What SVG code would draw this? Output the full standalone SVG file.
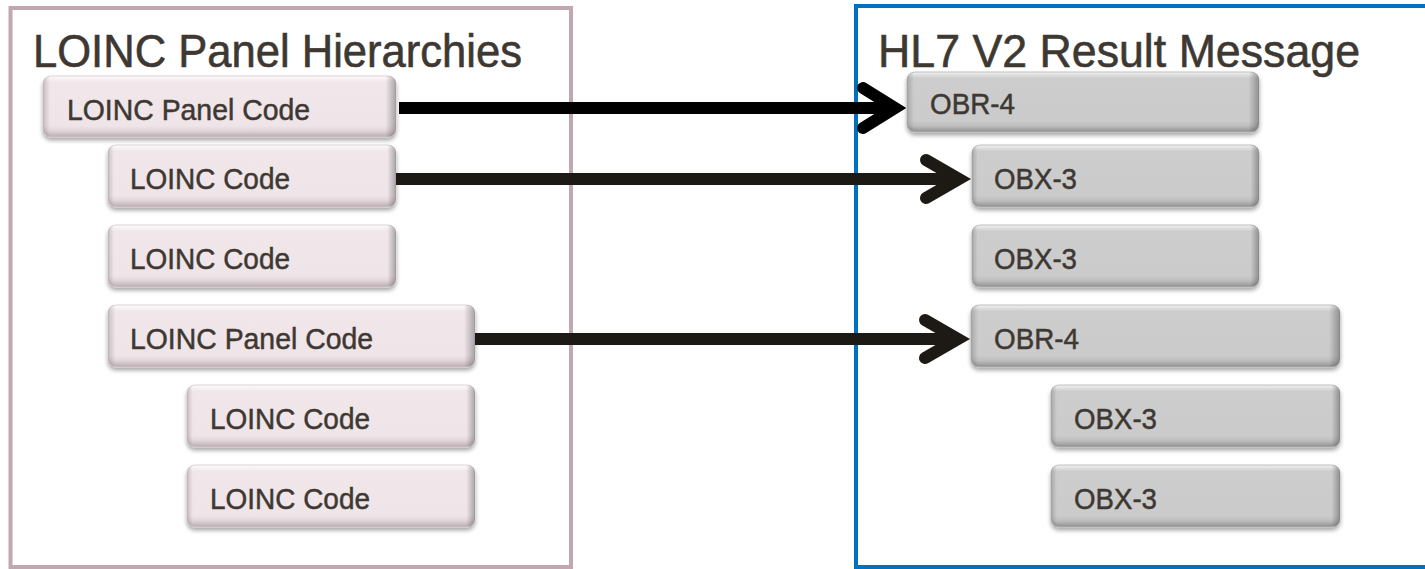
<svg xmlns="http://www.w3.org/2000/svg" width="1425" height="569" viewBox="0 0 1425 569">
  <defs>
    <!-- bevel shading for the pink code boxes -->
    <linearGradient id="pinkFill" x1="0" y1="0" x2="0" y2="1">
      <stop offset="0" stop-color="#fdfbfc"/>
      <stop offset="0.1" stop-color="#f1e7eb"/>
      <stop offset="0.82" stop-color="#efe5e9"/>
      <stop offset="0.9" stop-color="#e0d4d9"/>
      <stop offset="1" stop-color="#b9acb1"/>
    </linearGradient>
    <!-- bevel shading for the grey segment boxes -->
    <linearGradient id="greyFill" x1="0" y1="0" x2="0" y2="1">
      <stop offset="0" stop-color="#f2f2f2"/>
      <stop offset="0.1" stop-color="#cdcdcd"/>
      <stop offset="0.82" stop-color="#cbcbcb"/>
      <stop offset="0.9" stop-color="#bdbdbd"/>
      <stop offset="1" stop-color="#8f8f8f"/>
    </linearGradient>
    <!-- darkened left/right rims -->
    <linearGradient id="sideShade" x1="0" y1="0" x2="1" y2="0">
      <stop offset="0" stop-color="#000" stop-opacity="0.18"/>
      <stop offset="0.02" stop-color="#000" stop-opacity="0"/>
      <stop offset="0.97" stop-color="#000" stop-opacity="0"/>
      <stop offset="1" stop-color="#000" stop-opacity="0.3"/>
    </linearGradient>
    <filter id="boxShadow" x="-5%" y="-10%" width="110%" height="135%">
      <feDropShadow dx="0" dy="3" stdDeviation="2.2" flood-color="#000" flood-opacity="0.35"/>
    </filter>
  </defs>
  <style>
    .frame { fill: none; stroke-width: 4; }
    .pink { fill: url(#pinkFill); stroke: #d6cacf; stroke-width: 0.8; filter: url(#boxShadow); }
    .grey { fill: url(#greyFill); stroke: #b5b5b5; stroke-width: 0.8; filter: url(#boxShadow); }
    .rim { fill: url(#sideShade); }
    .title { font-family: "Liberation Sans", Arial, sans-serif; font-size: 46px; fill: #3e3832; stroke: #3e3832; stroke-width: 0.6; }
    .label { font-family: "Liberation Sans", Arial, sans-serif; font-size: 30px; fill: #3e3832; stroke: #3e3832; stroke-width: 0.5; }
    .shaft { fill: none; stroke-width: 12; stroke-linecap: butt; }
    .head { fill: none; stroke-width: 12; stroke-linecap: round; stroke-linejoin: miter; stroke-miterlimit: 6; }
  </style>

  <rect width="1425" height="569" fill="#ffffff"/>

  <!-- containers -->
  <g id="loinc-panel">
    <rect class="frame" x="10.5" y="8" width="560.5" height="559" stroke="#c2a6b0"/>
    <text class="title" x="33" y="67" textLength="489" lengthAdjust="spacingAndGlyphs">LOINC Panel Hierarchies</text>
  </g>
  <g id="hl7-message">
    <rect class="frame" x="856" y="6" width="600" height="561" stroke="#0070c0"/>
    <text class="title" x="878" y="67" textLength="482" lengthAdjust="spacingAndGlyphs">HL7 V2 Result Message</text>
  </g>

  <!-- LOINC side -->
  <g id="loinc-panel-code-1">
    <rect class="pink" x="43" y="76" width="353" height="61" rx="8"/>
    <rect class="rim" x="43" y="76" width="353" height="61" rx="8"/>
    <text class="label" x="67" y="120" textLength="243" lengthAdjust="spacingAndGlyphs">LOINC Panel Code</text>
  </g>
  <g id="loinc-code-1">
    <rect class="pink" x="108" y="145" width="288" height="62" rx="8"/>
    <rect class="rim" x="108" y="145" width="288" height="62" rx="8"/>
    <text class="label" x="130" y="189" textLength="160" lengthAdjust="spacingAndGlyphs">LOINC Code</text>
  </g>
  <g id="loinc-code-2">
    <rect class="pink" x="108" y="225" width="288" height="62" rx="8"/>
    <rect class="rim" x="108" y="225" width="288" height="62" rx="8"/>
    <text class="label" x="130" y="269" textLength="160" lengthAdjust="spacingAndGlyphs">LOINC Code</text>
  </g>
  <g id="loinc-panel-code-2">
    <rect class="pink" x="108" y="305" width="367" height="62" rx="8"/>
    <rect class="rim" x="108" y="305" width="367" height="62" rx="8"/>
    <text class="label" x="130" y="349" textLength="243" lengthAdjust="spacingAndGlyphs">LOINC Panel Code</text>
  </g>
  <g id="loinc-code-3">
    <rect class="pink" x="187" y="385" width="288" height="62" rx="8"/>
    <rect class="rim" x="187" y="385" width="288" height="62" rx="8"/>
    <text class="label" x="210" y="429" textLength="160" lengthAdjust="spacingAndGlyphs">LOINC Code</text>
  </g>
  <g id="loinc-code-4">
    <rect class="pink" x="187" y="465" width="288" height="62" rx="8"/>
    <rect class="rim" x="187" y="465" width="288" height="62" rx="8"/>
    <text class="label" x="210" y="509" textLength="160" lengthAdjust="spacingAndGlyphs">LOINC Code</text>
  </g>

  <!-- HL7 side -->
  <g id="obr4-1">
    <rect class="grey" x="907" y="72" width="352" height="60" rx="8"/>
    <rect class="rim" x="907" y="72" width="352" height="60" rx="8"/>
    <text class="label" x="930" y="114" textLength="85" lengthAdjust="spacingAndGlyphs">OBR-4</text>
  </g>
  <g id="obx3-1">
    <rect class="grey" x="972" y="145" width="287" height="62" rx="8"/>
    <rect class="rim" x="972" y="145" width="287" height="62" rx="8"/>
    <text class="label" x="994" y="189" textLength="83" lengthAdjust="spacingAndGlyphs">OBX-3</text>
  </g>
  <g id="obx3-2">
    <rect class="grey" x="972" y="225" width="287" height="62" rx="8"/>
    <rect class="rim" x="972" y="225" width="287" height="62" rx="8"/>
    <text class="label" x="994" y="269" textLength="83" lengthAdjust="spacingAndGlyphs">OBX-3</text>
  </g>
  <g id="obr4-2">
    <rect class="grey" x="971" y="305" width="369" height="62" rx="8"/>
    <rect class="rim" x="971" y="305" width="369" height="62" rx="8"/>
    <text class="label" x="994" y="349" textLength="85" lengthAdjust="spacingAndGlyphs">OBR-4</text>
  </g>
  <g id="obx3-3">
    <rect class="grey" x="1051" y="385" width="289" height="62" rx="8"/>
    <rect class="rim" x="1051" y="385" width="289" height="62" rx="8"/>
    <text class="label" x="1074" y="429" textLength="83" lengthAdjust="spacingAndGlyphs">OBX-3</text>
  </g>
  <g id="obx3-4">
    <rect class="grey" x="1051" y="465" width="289" height="62" rx="8"/>
    <rect class="rim" x="1051" y="465" width="289" height="62" rx="8"/>
    <text class="label" x="1074" y="509" textLength="83" lengthAdjust="spacingAndGlyphs">OBX-3</text>
  </g>

  <!-- mappings: LOINC codes to HL7 segment fields -->
  <g id="connectors">
    <g stroke="#000000">
      <line class="shaft" x1="399" y1="108" x2="895" y2="108"/>
      <polyline class="head" points="863,88 895,108 863,128"/>
    </g>
    <g stroke="#1d1a16">
      <line class="shaft" x1="396" y1="179" x2="959" y2="179"/>
      <polyline class="head" points="926,160 959,179 926,198"/>
    </g>
    <g stroke="#1d1a16">
      <line class="shaft" x1="475" y1="339" x2="958" y2="339"/>
      <polyline class="head" points="925,320 958,339 925,358"/>
    </g>
  </g>
</svg>
